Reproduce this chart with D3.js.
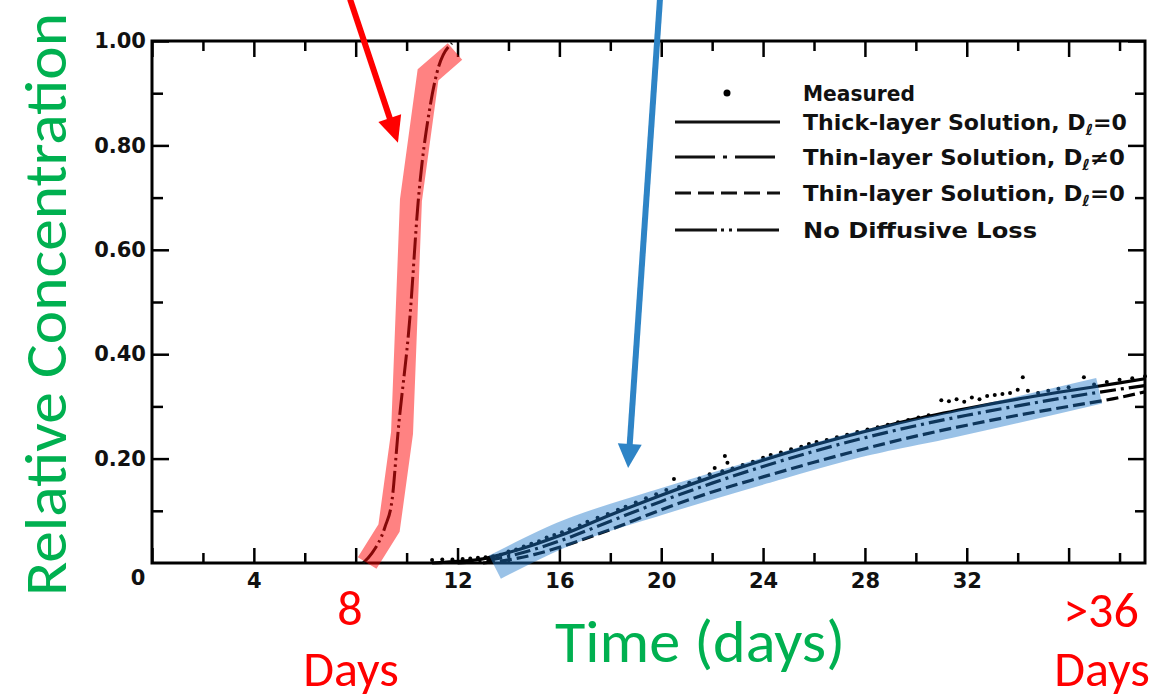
<!DOCTYPE html>
<html>
<head>
<meta charset="utf-8">
<script src="https://cdn.jsdelivr.net/npm/d3@7"></script>
<style>
  body { margin: 0; background: #fff; }
  svg { display: block; }
</style>
</head>
<body>
<div id="chart"></div>
<script>
// axis ticks
const xMajorTicks = [0, 4, 8, 12, 16, 20, 24, 28, 32, 36];
const xMinorTicks = [2, 6, 10, 14, 18, 22, 26, 30, 34, 38];
const xTickLabels = ['', '4', '', '12', '16', '20', '24', '28', '32', ''];
const yMajorTicks = [0.2, 0.4, 0.6, 0.8, 1.0];
const yMinorTicks = [0.1, 0.3, 0.5, 0.7, 0.9];
const yTickLabels = ['0.20', '0.40', '0.60', '0.80', '1.00'];

// curves: [time (days), relative concentration]
const noDiffusiveLoss = [[8.29, 0], [8.64, 0.019], [9.15, 0.069], [9.43, 0.121], [9.66, 0.249],
  [10.13, 0.471], [10.45, 0.69], [10.92, 0.874], [11.19, 0.939], [11.78, 0.996]];
const thickLayer = [[11, 0], [12, 0.003], [13, 0.008], [14, 0.02], [15, 0.035], [16, 0.052],
  [18, 0.092], [20, 0.13], [22, 0.165], [24, 0.197], [26, 0.226], [28, 0.252], [30, 0.276],
  [32, 0.296], [34, 0.314], [36, 0.33], [38, 0.345], [39, 0.353]];
const thinLayerD = [[12, 0], [13, 0.004], [14, 0.013], [15, 0.026], [16, 0.042], [18, 0.08],
  [20, 0.118], [22, 0.153], [24, 0.185], [26, 0.214], [28, 0.24], [30, 0.263], [32, 0.283],
  [34, 0.301], [36, 0.318], [38, 0.333], [39, 0.34]];
const thinLayer0 = [[13, 0], [14, 0.006], [15, 0.016], [16, 0.03], [18, 0.064], [20, 0.102],
  [22, 0.136], [24, 0.165], [26, 0.193], [28, 0.219], [30, 0.243], [32, 0.264], [34, 0.283],
  [36, 0.3], [38, 0.317], [39, 0.328]];
const measured = [[11.0, 0.002], [11.4, 0.003], [11.8, 0.003], [12.2, 0.004], [12.5, 0.005],
  [12.8, 0.006], [13.1, 0.007], [13.4, 0.009], [13.7, 0.012], [14.0, 0.018], [14.3, 0.022],
  [14.6, 0.028], [14.9, 0.033], [15.2, 0.038], [15.5, 0.045], [15.8, 0.05], [16.1, 0.055],
  [16.4, 0.061], [16.8, 0.068], [17.1, 0.075], [17.5, 0.083], [17.9, 0.09], [18.3, 0.098],
  [18.6, 0.104], [19.0, 0.112], [19.4, 0.12], [19.8, 0.128], [20.2, 0.136], [20.5, 0.157],
  [20.7, 0.142], [21.1, 0.15], [21.5, 0.158], [21.9, 0.166], [22.1, 0.178], [22.5, 0.201],
  [22.6, 0.188], [22.4, 0.172], [22.8, 0.177], [23.2, 0.184], [23.6, 0.19], [24.0, 0.198],
  [24.3, 0.203], [24.7, 0.208], [25.1, 0.214], [25.5, 0.219], [25.8, 0.224], [26.1, 0.228],
  [26.5, 0.232], [26.9, 0.237], [27.3, 0.242], [27.7, 0.247], [28.1, 0.252], [28.5, 0.256],
  [28.9, 0.261], [29.3, 0.266], [29.7, 0.27], [30.1, 0.275], [30.5, 0.279], [31.0, 0.308],
  [31.3, 0.306], [31.6, 0.31], [31.9, 0.305], [32.2, 0.313], [32.5, 0.31], [32.8, 0.316],
  [33.1, 0.318], [33.4, 0.32], [33.7, 0.322], [34.0, 0.328], [34.2, 0.352], [34.4, 0.326],
  [34.8, 0.322], [35.2, 0.326], [35.6, 0.33], [36.0, 0.333], [36.6, 0.352], [37.0, 0.338],
  [37.5, 0.343], [38.0, 0.347], [38.5, 0.35], [39.0, 0.354]];

// highlight bands and arrows drawn over the scan
const redBand = [[8.45, 0.0], [9.31, 0.067], [9.82, 0.249], [10.17, 0.695], [10.84, 0.935], [11.9, 0.98]];
const blueBand = [[13.47, -0.008], [16.1, 0.054], [20.1, 0.119], [24.0, 0.176], [28.0, 0.23], [31.3, 0.264], [37.2, 0.33]];
const redArrow = [[7.78, 1.08], [9.66, 0.805]];
const blueArrow = [[19.95, 1.08], [18.7, 0.182]];

const legendItems = [
  { pre: 'Measured', sub: '', post: '', type: 'dot' },
  { pre: 'Thick-layer Solution, D', sub: 'ℓ', post: '=0', dash: null },
  { pre: 'Thin-layer Solution, D', sub: 'ℓ', post: '≠0', dash: '40,8,4,8' },
  { pre: 'Thin-layer Solution, D', sub: 'ℓ', post: '=0', dash: '16,7' },
  { pre: 'No Diffusive Loss', sub: '', post: '', dash: '42,4,3,5,3,5' }
];

const w = 1150;
const h = 698;
const green = '#00b050';
const red = '#ff0000';
const calibri = "Calibri, Carlito, 'Open Sans', sans-serif";
const scanFont = "'DejaVu Sans', sans-serif";

const svg = d3.select('#chart').append('svg')
  .attr('width', w)
  .attr('height', h);

const xScale = d3.scaleLinear().domain([0, 39]).range([152, 1145]);
const yScale = d3.scaleLinear().domain([0, 1]).range([563, 41]);

const line = d3.line()
  .x(d => xScale(d[0]))
  .y(d => yScale(d[1]))
  .curve(d3.curveMonotoneX);
const band = d3.line()
  .x(d => xScale(d[0]))
  .y(d => yScale(d[1]));

// axes (all ticks point inward)
function styleAxis(g) {
  g.select('.domain').remove();
  g.selectAll('.tick line').attr('stroke', '#000').attr('stroke-width', 2.5);
  g.selectAll('.tick text')
    .attr('fill', '#111')
    .style('font-family', scanFont)
    .style('font-weight', 'bold')
    .style('font-size', '21px');
}

svg.append('g')
  .attr('transform', 'translate(0,563)')
  .call(d3.axisBottom(xScale).tickValues(xMajorTicks).tickSize(-15).tickPadding(10)
    .tickFormat((d, i) => xTickLabels[i]))
  .call(styleAxis);
svg.append('g')
  .attr('transform', 'translate(0,563)')
  .call(d3.axisBottom(xScale).tickValues(xMinorTicks.filter(d => d < 39)).tickSize(-10).tickFormat(''))
  .call(styleAxis);
svg.append('g')
  .attr('transform', 'translate(0,41)')
  .call(d3.axisTop(xScale).tickValues(xMajorTicks).tickSize(-16).tickFormat(''))
  .call(styleAxis);
svg.append('g')
  .attr('transform', 'translate(0,41)')
  .call(d3.axisTop(xScale).tickValues(xMinorTicks.filter(d => d < 39)).tickSize(-10).tickFormat(''))
  .call(styleAxis);

svg.append('g')
  .attr('transform', 'translate(152,0)')
  .call(d3.axisLeft(yScale).tickValues(yMajorTicks).tickSize(-17).tickPadding(6)
    .tickFormat((d, i) => yTickLabels[i]))
  .call(styleAxis);
svg.append('g')
  .attr('transform', 'translate(152,0)')
  .call(d3.axisLeft(yScale).tickValues(yMinorTicks).tickSize(-11).tickFormat(''))
  .call(styleAxis);
svg.append('g')
  .attr('transform', 'translate(1145,0)')
  .call(d3.axisRight(yScale).tickValues(yMajorTicks).tickSize(-17).tickFormat(''))
  .call(styleAxis);
svg.append('g')
  .attr('transform', 'translate(1145,0)')
  .call(d3.axisRight(yScale).tickValues(yMinorTicks).tickSize(-10).tickFormat(''))
  .call(styleAxis);

svg.append('text')
  .attr('x', 138)
  .attr('y', 585)
  .attr('text-anchor', 'middle')
  .attr('fill', '#111')
  .style('font-family', scanFont)
  .style('font-weight', 'bold')
  .style('font-size', '21px')
  .text('0');

svg.append('rect')
  .attr('x', xScale(0))
  .attr('y', yScale(1))
  .attr('width', xScale(39) - xScale(0))
  .attr('height', yScale(0) - yScale(1))
  .attr('fill', 'none')
  .attr('stroke', '#000')
  .attr('stroke-width', 3);

// model curves
const plot = svg.append('g');
plot.append('path').datum(noDiffusiveLoss)
  .attr('d', line).attr('fill', 'none').attr('stroke', '#111').attr('stroke-width', 3)
  .attr('stroke-dasharray', '22,4,2.5,4,2.5,4');
plot.append('path').datum(thinLayer0)
  .attr('d', line).attr('fill', 'none').attr('stroke', '#000').attr('stroke-width', 3.2)
  .attr('stroke-dasharray', '12,5');
plot.append('path').datum(thinLayerD)
  .attr('d', line).attr('fill', 'none').attr('stroke', '#000').attr('stroke-width', 3.2)
  .attr('stroke-dasharray', '16,5,3,5');
plot.append('path').datum(thickLayer)
  .attr('d', line).attr('fill', 'none').attr('stroke', '#000').attr('stroke-width', 3.2);

plot.selectAll('circle.measured')
  .data(measured)
  .enter()
  .append('circle')
  .attr('class', 'measured')
  .attr('cx', d => xScale(d[0]))
  .attr('cy', d => yScale(d[1]) - 2)
  .attr('r', 2)
  .attr('fill', '#000');

// highlight bands
svg.append('path').datum(redBand)
  .attr('d', band).attr('fill', 'none')
  .attr('stroke', red).attr('stroke-opacity', 0.49)
  .attr('stroke-width', 22).attr('stroke-linejoin', 'miter');
svg.append('path').datum(blueBand)
  .attr('d', band.curve(d3.curveMonotoneX)).attr('fill', 'none')
  .attr('stroke', '#1f77c9').attr('stroke-opacity', 0.45)
  .attr('stroke-width', 26);

// arrows
function arrow(points, color, headLen, headHalf) {
  const [x0, y0] = [xScale(points[0][0]), yScale(points[0][1])];
  const [x1, y1] = [xScale(points[1][0]), yScale(points[1][1])];
  const len = Math.hypot(x1 - x0, y1 - y0);
  const ux = (x1 - x0) / len, uy = (y1 - y0) / len;
  const bx = x1 - ux * headLen, by = y1 - uy * headLen;
  svg.append('line')
    .attr('x1', x0).attr('y1', y0).attr('x2', bx + ux * 2).attr('y2', by + uy * 2)
    .attr('stroke', color).attr('stroke-width', 6);
  svg.append('polygon')
    .attr('points', [[x1, y1], [bx - uy * headHalf, by + ux * headHalf], [bx + uy * headHalf, by - ux * headHalf]]
      .map(p => p.join(',')).join(' '))
    .attr('fill', color);
}
arrow(redArrow, red, 26, 12);
arrow(blueArrow, '#2e84c6', 24, 12);

// legend
const legend = svg.append('g');
const rowY = [93, 122, 157, 193, 230];
const rowLen = [112, 324, 322, 322, 234];
legendItems.forEach((item, i) => {
  if (item.type === 'dot') {
    legend.append('circle').attr('cx', 727).attr('cy', rowY[i]).attr('r', 3.5).attr('fill', '#000');
  } else {
    const l = legend.append('line')
      .attr('x1', 675).attr('x2', 780).attr('y1', rowY[i]).attr('y2', rowY[i])
      .attr('stroke', '#111').attr('stroke-width', 3);
    if (item.dash) l.attr('stroke-dasharray', item.dash);
  }
  const t = legend.append('text')
    .attr('x', 803)
    .attr('y', rowY[i] + 8)
    .attr('fill', '#111')
    .attr('textLength', rowLen[i])
    .attr('lengthAdjust', 'spacingAndGlyphs')
    .style('font-family', scanFont)
    .style('font-weight', 'bold')
    .style('font-size', '21px');
  t.append('tspan').text(item.pre);
  if (item.sub) {
    t.append('tspan').attr('dy', 5).style('font-size', '15px').text(item.sub);
    t.append('tspan').attr('dy', -5).text(item.post);
  }
});

// slide annotations
svg.append('text')
  .attr('transform', 'translate(66,596) rotate(-90)')
  .attr('fill', green)
  .attr('textLength', 583)
  .attr('lengthAdjust', 'spacingAndGlyphs')
  .style('font-family', calibri)
  .style('font-size', '60px')
  .text('Relative Concentration');

svg.append('text')
  .attr('x', 555).attr('y', 662)
  .attr('fill', green)
  .attr('textLength', 290)
  .attr('lengthAdjust', 'spacingAndGlyphs')
  .style('font-family', calibri)
  .style('font-size', '60px')
  .text('Time (days)');

const redLabels = [
  { text: '8', x: 350, y: 625, size: 50 },
  { text: 'Days', x: 351, y: 686, size: 50 },
  { text: '>36', x: 1101, y: 627, size: 50 },
  { text: 'Days', x: 1102, y: 686, size: 50 }
];
redLabels.forEach(d => {
  svg.append('text')
    .attr('x', d.x).attr('y', d.y)
    .attr('text-anchor', 'middle')
    .attr('fill', red)
    .style('font-family', calibri)
    .style('font-size', d.size + 'px')
    .text(d.text);
});
</script>
</body>
</html>
